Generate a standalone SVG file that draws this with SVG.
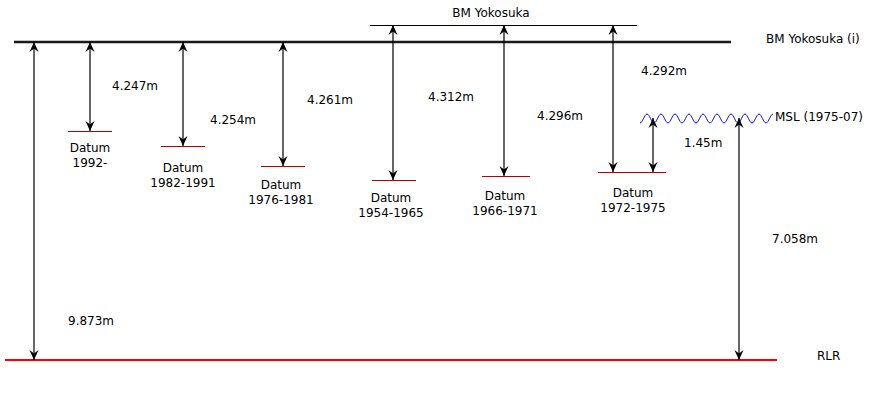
<svg xmlns="http://www.w3.org/2000/svg" width="875" height="400" viewBox="0 0 875 400">
<style>
text{font-family:"DejaVu Sans","Liberation Sans",sans-serif;font-size:12px;fill:#000}
.c{text-anchor:middle}
.dim{stroke:#000;stroke-width:1.2;fill:none;marker-start:url(#ah);marker-end:url(#ah)}
.dat{stroke:#b80000;stroke-width:1}
</style>
<defs>
<marker id="ah" viewBox="-11 -5 12 10" markerWidth="12" markerHeight="10" refX="0" refY="0" orient="auto-start-reverse" markerUnits="userSpaceOnUse">
<path d="M0,0 L-10,-4.5 L-6.5,0 L-10,4.5 Z" fill="#000"/>
</marker>
</defs>
<rect width="875" height="400" fill="#fff"/>
<g id="bm-yokosuka">
<line x1="370" y1="25.5" x2="637" y2="25.5" stroke="#000" stroke-width="1"/>
<text x="491" y="17" class="c">BM Yokosuka</text>
</g>
<g id="bm-yokosuka-i">
<line x1="14" y1="42" x2="731" y2="42" stroke="#1a1a1a" stroke-width="2.5"/>
<text x="766" y="43">BM Yokosuka (i)</text>
</g>
<g id="msl">
<path d="M640,123 c2.5,0 4.5,-9 7,-9 s4.5,9 7,9 s4.5,-9 7,-9 s4.5,9 7,9 s4.5,-9 7,-9 s4.5,9 7,9 s4.5,-9 7,-9 s4.5,9 7,9 s4.5,-9 7,-9 s4.5,9 7,9 s4.5,-9 7,-9 s4.5,9 7,9 s4.5,-9 7,-9 s4.5,9 7,9 s4.5,-9 7,-9 s4.5,9 7,9 s4.5,-9 7,-9 s4.5,9 7,9 s4.5,-9 7,-9" fill="none" stroke="#0000ff" stroke-width="1"/>
<text x="775" y="121">MSL (1975-07)</text>
</g>
<g id="rlr">
<line x1="5" y1="360" x2="777" y2="360" stroke="#ff0000" stroke-width="2"/>
<text x="817" y="360">RLR</text>
</g>
<g id="datum-1992">
<line class="dat" x1="68" y1="131.5" x2="112" y2="131.5"/>
<text x="90" y="152" class="c">Datum</text>
<text x="90" y="167" class="c">1992-</text>
</g>
<g id="datum-1982">
<line class="dat" x1="161" y1="146.5" x2="205" y2="146.5"/>
<text x="183" y="172" class="c">Datum</text>
<text x="183" y="187" class="c">1982-1991</text>
</g>
<g id="datum-1976">
<line class="dat" x1="261" y1="166.5" x2="305" y2="166.5"/>
<text x="281" y="189" class="c">Datum</text>
<text x="281" y="204" class="c">1976-1981</text>
</g>
<g id="datum-1954">
<line class="dat" x1="372" y1="180.5" x2="416" y2="180.5"/>
<text x="391" y="202" class="c">Datum</text>
<text x="391" y="217" class="c">1954-1965</text>
</g>
<g id="datum-1966">
<line class="dat" x1="482" y1="176.5" x2="530" y2="176.5"/>
<text x="505" y="200" class="c">Datum</text>
<text x="505" y="215" class="c">1966-1971</text>
</g>
<g id="datum-1972">
<line class="dat" x1="598" y1="172.5" x2="666" y2="172.5"/>
<text x="633" y="197" class="c">Datum</text>
<text x="633" y="212" class="c">1972-1975</text>
</g>
<g id="connectors">
<line class="dim" x1="34" y1="42" x2="34" y2="360"/>
<line class="dim" x1="90" y1="42" x2="90" y2="131"/>
<line class="dim" x1="183" y1="42" x2="183" y2="146"/>
<line class="dim" x1="283" y1="42" x2="283" y2="166"/>
<line class="dim" x1="393" y1="25" x2="393" y2="180"/>
<line class="dim" x1="504" y1="25" x2="504" y2="176"/>
<line class="dim" x1="613" y1="25" x2="613" y2="172"/>
<line class="dim" x1="653" y1="118" x2="653" y2="172"/>
<line class="dim" x1="739" y1="118" x2="739" y2="360"/>
<text x="68" y="325">9.873m</text>
<text x="112" y="90">4.247m</text>
<text x="210" y="124">4.254m</text>
<text x="307" y="104">4.261m</text>
<text x="428" y="101">4.312m</text>
<text x="537" y="120">4.296m</text>
<text x="641" y="75">4.292m</text>
<text x="684" y="147">1.45m</text>
<text x="772" y="243">7.058m</text>
</g>
</svg>
